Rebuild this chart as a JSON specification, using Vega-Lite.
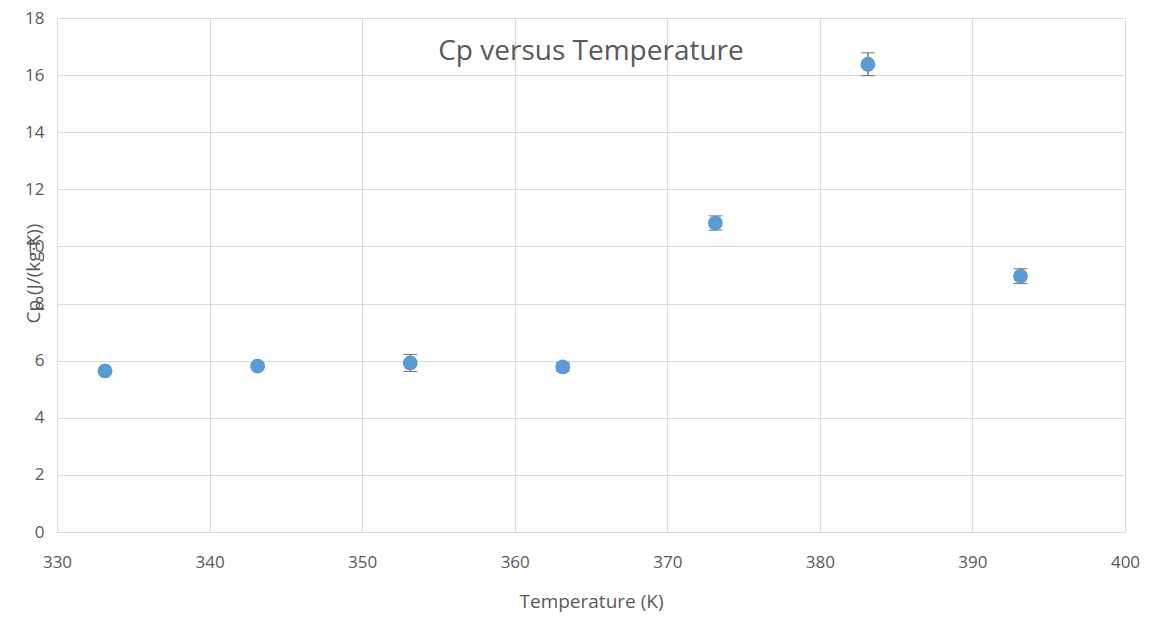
{
  "$schema": "https://vega.github.io/schema/vega-lite/v6.json",
  "width": 1068,
  "height": 514,
  "autosize": "none",
  "padding": {"left": 57, "top": 18, "right": 30, "bottom": 94},
  "background": "white",
  "title": {
    "text": "Cp versus Temperature",
    "anchor": "middle",
    "offset": -57,
    "fontSize": 28,
    "font": "Open Sans",
    "fontWeight": "normal",
    "color": "#595959"
  },
  "data": {
    "values": [
      {"T": 333.15, "Cp": 5.64, "lo": 5.60, "hi": 5.68},
      {"T": 343.15, "Cp": 5.81, "lo": 5.77, "hi": 5.85},
      {"T": 353.15, "Cp": 5.92, "lo": 5.62, "hi": 6.22},
      {"T": 363.15, "Cp": 5.78, "lo": 5.63, "hi": 5.93},
      {"T": 373.15, "Cp": 10.82, "lo": 10.57, "hi": 11.07},
      {"T": 383.15, "Cp": 16.38, "lo": 15.98, "hi": 16.78},
      {"T": 393.15, "Cp": 8.96, "lo": 8.70, "hi": 9.22}
    ]
  },
  "encoding": {
    "x": {
      "field": "T", "type": "quantitative",
      "scale": {"domain": [330, 400], "nice": false, "zero": false},
      "axis": {"title": "Temperature (K)", "values": [330,340,350,360,370,380,390,400], "labelOverlap": false, "labelFlush": false}
    }
  },
  "layer": [
    {
      "mark": {"type": "errorbar", "ticks": {"size": 14, "color": "#404040"}, "rule": {"color": "#404040", "strokeWidth": 1}},
      "encoding": {
        "y": {"field": "lo", "type": "quantitative", "scale": {"domain": [0, 18], "nice": false},
          "axis": {"title": "Cp (J/(kg·K))", "values": [0,2,4,6,8,10,12,14,16,18], "labelOverlap": false, "labelFlush": false,
            "titleX": -24, "titleY": 255, "titleAngle": -90, "titleAlign": "center", "titleBaseline": "middle"}},
        "y2": {"field": "hi"}
      }
    },
    {
      "mark": {"type": "point", "filled": true, "size": 220, "color": "#5b9bd5", "opacity": 1},
      "encoding": {
        "y": {"field": "Cp", "type": "quantitative"}
      }
    }
  ],
  "config": {
    "view": {"stroke": null},
    "axis": {
      "grid": true,
      "gridColor": "#d9d9d9",
      "domainColor": "#d9d9d9",
      "ticks": false,
      "labelFont": "Open Sans",
      "labelFontSize": 17,
      "labelColor": "#595959",
      "titleFont": "Open Sans",
      "titleFontSize": 19,
      "titleFontWeight": "normal",
      "titleColor": "#595959"
    },
    "axisX": {"labelPadding": 22, "titlePadding": 22},
    "axisY": {"labelPadding": 13}
  }
}
